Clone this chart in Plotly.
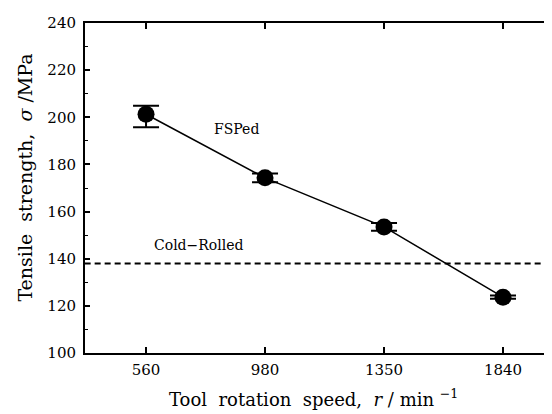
import plotly.graph_objects as go

speeds = ["560", "980", "1350", "1840"]
strength = [201.3, 174.3, 153.5, 123.7]
err_plus = [3.6, 1.9, 1.6, 0.7]
err_minus = [5.5, 1.9, 1.6, 0.7]
cold_rolled = 138.0
y_ticks = [100, 120, 140, 160, 180, 200, 220, 240]

xi = list(range(len(speeds)))
FONT = "DejaVu Serif"

fig = go.Figure()
# Cold-rolled reference (dashed)
fig.add_trace(go.Scatter(
    x=[-0.6, 3.6], y=[cold_rolled, cold_rolled], mode="lines",
    line=dict(color="black", width=2, dash="6px,4px"), showlegend=False,
    hoverinfo="skip"))
# FSPed data
fig.add_trace(go.Scatter(
    x=xi, y=strength, mode="lines+markers",
    line=dict(color="black", width=1.5),
    marker=dict(color="black", size=17, symbol="circle"),
    error_y=dict(type="data", symmetric=False, array=err_plus,
                 arrayminus=err_minus, color="black", thickness=2, width=13),
    showlegend=False))
# invisible trace for right-side ticks
fig.add_trace(go.Scatter(x=[0], y=[150], yaxis="y2", mode="markers",
                         marker=dict(opacity=0), showlegend=False,
                         hoverinfo="skip"))

axis_font = dict(family=FONT, size=15, color="black")
fig.update_layout(
    width=552, height=414,
    margin=dict(l=77, r=0, t=15, b=69),
    paper_bgcolor="white", plot_bgcolor="white",
    font=dict(family=FONT, color="black"),
    xaxis=dict(range=[-0.513, 3.479], tickmode="array", tickvals=xi,
               ticktext=speeds, showline=True, linecolor="black",
               linewidth=2, mirror="ticks", ticks="inside", ticklen=6,
               tickwidth=1.5, tickcolor="black", showgrid=False,
               zeroline=False, tickfont=axis_font, ticklabelstandoff=2),
    yaxis=dict(range=[100, 240], tickmode="array", tickvals=y_ticks,
               showline=True, linecolor="black", linewidth=2,
               ticks="inside", ticklen=5, tickwidth=1.5, tickcolor="black",
               minor=dict(dtick=10, ticks="inside", ticklen=3,
                          tickwidth=1, tickcolor="black"),
               showgrid=False, zeroline=False, tickfont=axis_font,
               ticklabelstandoff=4),
    yaxis2=dict(range=[100, 240], overlaying="y", side="right",
                tickmode="array", tickvals=y_ticks, showticklabels=False,
                showline=False, ticks="inside", ticklen=5, tickwidth=1.5,
                tickcolor="black",
                minor=dict(dtick=10, ticks="inside", ticklen=3,
                           tickwidth=1, tickcolor="black"),
                showgrid=False, zeroline=False),
    annotations=[
        dict(text="FSPed", x=0.756, y=195.2, xref="x", yref="y",
             showarrow=False, font=dict(family=FONT, size=14)),
        dict(text="Cold\u2212Rolled", x=0.445, y=145.7, xref="x", yref="y",
             showarrow=False, font=dict(family=FONT, size=14)),
        dict(text="Tool\u00a0\u00a0rotation\u00a0\u00a0speed,\u00a0\u00a0<i>r</i> / min <sup>\u22121</sup>",
             x=0.482, y=-0.18, xref="paper", yref="paper",
             xanchor="center", yanchor="bottom",
             showarrow=False, font=dict(family=FONT, size=18)),
        dict(text="Tensile\u00a0\u00a0strength,\u00a0\u00a0<i>\u03c3</i> /MPa",
             x=-0.126, y=0.532, xref="paper", yref="paper", textangle=-90,
             xanchor="center", yanchor="middle",
             showarrow=False, font=dict(family=FONT, size=19)),
    ],
)

fig.write_html("out.html")
